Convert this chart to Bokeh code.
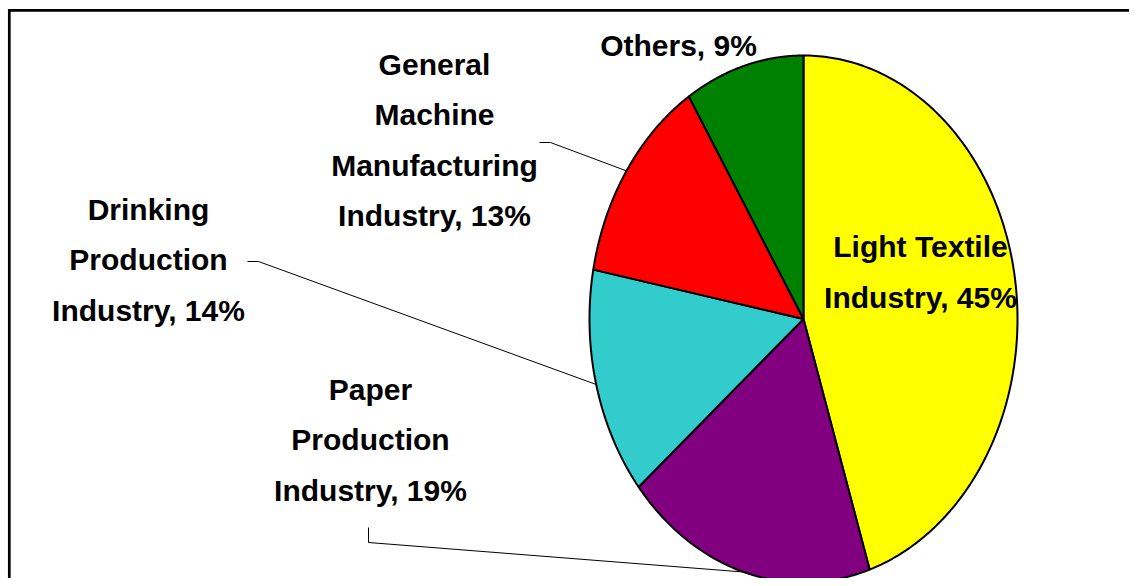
import numpy as np
from bokeh.plotting import figure
from bokeh.models import Range1d
from bokeh.core.properties import value
from bokeh.embed import file_html
from bokeh.resources import INLINE

# ---- data ----
categories = ["Light Textile\nIndustry", "Paper\nProduction\nIndustry", "Drinking\nProduction\nIndustry",
              "General\nMachine\nManufacturing\nIndustry", "Others"]
shares = [45, 19, 14, 13, 9]
colors = ["#FFFF00", "#800080", "#33CCCC", "#FF0000", "#008000"]

# ---- layout (pixels) ----
W, H = 1129, 578
CX, CY, RX, RY = 803, 318.5, 214, 263.5

def dx(px):
    return (px - CX) / RX

def dy(py):
    return (CY - py) / RY

p = figure(width=W, height=H, output_backend="svg", toolbar_location=None, min_border=0,
           x_range=Range1d(dx(0), dx(W)), y_range=Range1d(dy(H), dy(0)))
p.axis.visible = False
p.grid.visible = False
p.outline_line_color = None
p.background_fill_color = "white"
p.border_fill_color = "white"

# frame (left & top border visible)
p.line([dx(8.8), dx(8.8), dx(W + 10)], [dy(H + 10), dy(9.8), dy(9.8)],
       line_color="black", line_width=2.7, line_join="miter")

# slices: elliptical pie, clockwise from top
vals = np.array(shares, dtype=float)
cum = np.concatenate([[0], np.cumsum(vals)]) / vals.sum() * 2 * np.pi
xs, ys, mids = [], [], []
for a0, a1 in zip(cum[:-1], cum[1:]):
    t = np.linspace(a0, a1, 200)
    xs.append(list(np.concatenate([[0], np.sin(t), [0]])))
    ys.append(list(np.concatenate([[0], np.cos(t), [0]])))
    mids.append((a0 + a1) / 2)
p.patches(xs, ys, fill_color=colors, line_color="black", line_width=2)

# labels
label_text = [f"{c}, {s}%" for c, s in zip(categories, shares)]
label_text[0] = "Light Textile\nIndustry, 45%"
label_pos = [(920, 271.5), (370, 439.5), (148, 259.5), (434, 139.5), (678, 45)]
p.text(x=[dx(a) for a, b in label_pos], y=[dy(b) for a, b in label_pos], text=label_text,
       text_font=value("Liberation Sans"), text_font_style="bold", text_font_size="30px",
       text_align="center", text_baseline="middle", text_line_height=1.525, text_color="black")

# leader lines: elbow (label side) -> slice mid-angle on the edge
elbows = {1: [(368, 527), (368, 542)], 2: [(247, 261), (258, 261)], 3: [(539, 142), (550, 142)]}
for i, pts in elbows.items():
    lx = [dx(a) for a, b in pts] + [np.sin(mids[i])]
    ly = [dy(b) for a, b in pts] + [np.cos(mids[i])]
    p.line(lx, ly, line_color="black", line_width=1)

open("out.html", "w").write(file_html(p, INLINE))
